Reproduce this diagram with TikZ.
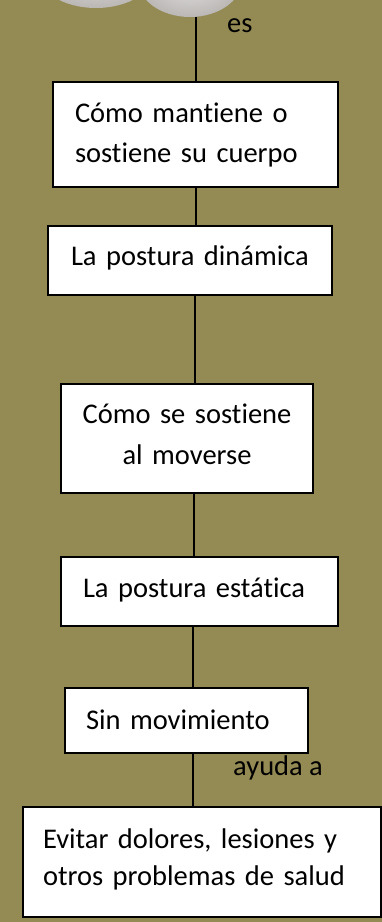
\documentclass[tikz,border=0pt]{standalone}
\usepackage{fontspec}
\setmainfont{Carlito}[Ligatures={NoCommon}]
\usetikzlibrary{shapes.geometric}
\definecolor{bgolive}{RGB}{148,138,84}
\definecolor{blobin}{RGB}{228,226,225}
\definecolor{blobout}{RGB}{186,183,181}
\begin{document}
\begin{tikzpicture}[x=1pt,y=-1pt,
  box/.style={draw=black, line width=1.8pt, fill=white, inner xsep=0pt, inner ysep=0pt,
    font=\fontsize{28.5}{40}\selectfont},
  blob/.style={ellipse, draw=none, inner color=blobin, outer color=blobout},
  link/.style={draw=black, line width=1.3pt},
  lbl/.style={inner sep=0pt, font=\fontsize{28.5}{35}\selectfont}]
\useasboundingbox (0,0) rectangle (382,922);
\clip (0,0) rectangle (382,922);
\fill[bgolive] (0,0) rectangle (382,922);
% cut-off ovals at the top
\node[blob, minimum width=120pt, minimum height=76pt] (blobL) at (96,-30) {};
\node[blob, minimum width=104pt, minimum height=74pt] (blobR) at (190,-20) {};
% boxes
\node[box, minimum width=285pt, minimum height=105pt, text width=241pt, align=left,
  text height=0pt, text depth=24pt] (b1) at (195.5,134.5)
  {\mbox{Cómo mantiene o}\\\mbox{sostiene su cuerpo}};
\node[box, minimum width=284pt, minimum height=69pt, text width=238pt, align=left,
  text height=9pt, text depth=0pt] (b2) at (190,260.5) {\mbox{La postura dinámica}};
\node[box, minimum width=252pt, minimum height=109pt, text width=240pt, align=center,
  font=\fontsize{28.5}{41}\selectfont, text height=0pt, text depth=31pt] (b3) at (187,438.5)
  {Cómo se sostiene\\al moverse};
\node[box, minimum width=277pt, minimum height=69pt, text width=233pt, align=left,
  text height=11pt, text depth=0pt] (b4) at (199.5,591.5) {\mbox{La postura estática}};
\node[box, minimum width=243pt, minimum height=65pt, text width=201pt, align=left,
  text height=17pt, text depth=0pt] (b5) at (186.5,720.5) {\mbox{Sin movimiento}};
\node[box, minimum width=358pt, minimum height=110pt, text width=318pt, align=left,
  font=\fontsize{28.5}{37}\selectfont, text height=0pt, text depth=28pt] (b6) at (202,862)
  {\mbox{Evitar dolores, lesiones y}\\\mbox{otros problemas de salud}};
% connectors
\draw[link] (blobR.south -| 196,0) -- (b1.north -| 196,0);
\draw[link] (b1.south -| 196,0) -- (b2.north -| 196,0);
\draw[link] (b2.south -| 195,0) -- (b3.north -| 195,0);
\draw[link] (b3.south -| 194,0) -- (b4.north -| 194,0);
\draw[link] (b4.south -| 193,0) -- (b5.north -| 193,0);
\draw[link] (b5.south -| 193,0) -- (b6.north -| 193,0);
% labels
\node[lbl, anchor=base west] (es) at (227,32) {es};
\node[lbl, anchor=base west] (ayuda) at (233,775) {ayuda a};
\end{tikzpicture}
\end{document}
